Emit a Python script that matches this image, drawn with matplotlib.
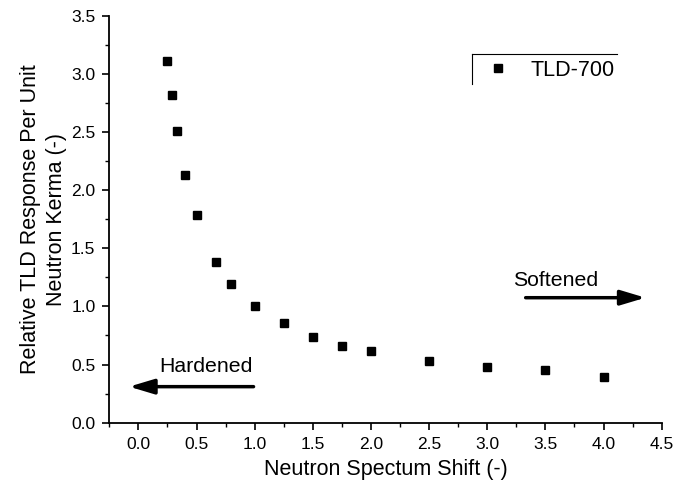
import matplotlib
matplotlib.use("Agg")
import matplotlib.pyplot as plt
from matplotlib.ticker import MultipleLocator, FormatStrFormatter
from matplotlib.lines import Line2D

plt.rcParams['font.family'] = ['Liberation Sans', 'DejaVu Sans']

spectrum_shift = [0.25, 0.286, 0.333, 0.4, 0.5, 0.667, 0.8, 1.0, 1.25, 1.5, 1.75, 2.0, 2.5, 3.0, 3.5, 4.0]
response = [3.11, 2.82, 2.51, 2.13, 1.79, 1.38, 1.19, 1.00, 0.855, 0.735, 0.66, 0.62, 0.53, 0.48, 0.45, 0.39]
series_name = "TLD-700"

fig = plt.figure(figsize=(6.89, 4.88), dpi=100)
ax = fig.add_axes([0.1587, 0.1338, 0.8017, 0.834])

ax.plot(spectrum_shift, response, linestyle='none', marker='s', markersize=6,
        color='black', label=series_name)

ax.set_xlim(-0.25, 4.5)
ax.set_ylim(0, 3.5)
ax.xaxis.set_major_locator(MultipleLocator(0.5))
ax.xaxis.set_minor_locator(MultipleLocator(0.25))
ax.yaxis.set_major_locator(MultipleLocator(0.5))
ax.yaxis.set_minor_locator(MultipleLocator(0.25))
ax.xaxis.set_major_formatter(FormatStrFormatter('%.1f'))
ax.yaxis.set_major_formatter(FormatStrFormatter('%.1f'))
ax.tick_params(which='major', direction='out', length=5, width=1.2, labelsize=12.5, pad=5)
ax.tick_params(which='minor', direction='out', length=3, width=1.0)

for s in ['top', 'right']:
    ax.spines[s].set_visible(False)
for s in ['left', 'bottom']:
    ax.spines[s].set_linewidth(1.3)

ax.set_xlabel("Neutron Spectum Shift (-)", fontsize=15.5, labelpad=5)
ax.set_ylabel("Relative TLD Response Per Unit\nNeutron Kerma (-)", fontsize=15.5, labelpad=3,
              linespacing=1.3)

# arrows
ax.annotate('', xy=(-0.08, 0.31), xytext=(0.99, 0.31),
            arrowprops=dict(arrowstyle='-|>,head_length=1.5,head_width=0.45', color='black', lw=2.5,
                            shrinkA=0, shrinkB=0))
ax.text(0.58, 0.48, "Hardened", fontsize=15.3, ha='center', va='center')
ax.annotate('', xy=(4.36, 1.075), xytext=(3.33, 1.075),
            arrowprops=dict(arrowstyle='-|>,head_length=1.5,head_width=0.45', color='black', lw=2.5,
                            shrinkA=0, shrinkB=0))
ax.text(3.59, 1.22, "Softened", fontsize=15.3, ha='center', va='center')

# legend (Origin style partial frame)
leg = ax.legend(loc='center left', bbox_to_anchor=(0.674, 0.866), frameon=False, fontsize=15.5,
                handletextpad=0.77, borderpad=0.0, borderaxespad=0.0, handlelength=1.5)
ax.add_line(Line2D([0.6566, 0.9187], [0.906, 0.906], transform=ax.transAxes, color='black', lw=0.8))
ax.add_line(Line2D([0.6566, 0.6566], [0.906, 0.832], transform=ax.transAxes, color='black', lw=0.8))

fig.savefig("out.png", dpi=100)
